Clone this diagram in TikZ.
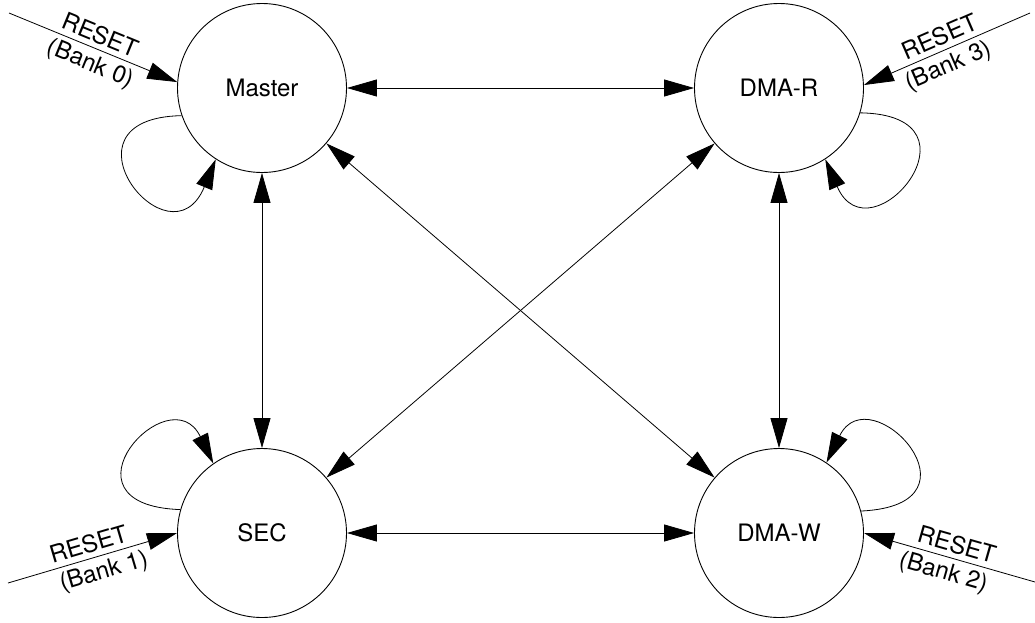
\documentclass[tikz,border=0pt]{standalone}
\usepackage{fontspec}
\setmainfont{TeX Gyre Heros}
\usetikzlibrary{arrows.meta}
\begin{document}
\begin{tikzpicture}[x=1pt,y=-1pt,
  state/.style={circle,draw,line width=0.9pt,minimum size=169pt,inner sep=0pt,font=\fontsize{24}{28}\selectfont},
  arr/.style={line width=0.8pt,-{Triangle[length=30pt,width=17pt]}},
  darr/.style={line width=0.8pt,{Triangle[length=30pt,width=17pt]}-{Triangle[length=30pt,width=17pt]}},
  lbl/.style={font=\fontsize{24}{28}\selectfont,sloped,inner sep=5pt}]
\useasboundingbox (0,0) rectangle (1035,622);
\node[state] (M) at (262,88) {Master};
\node[state] (R) at (779,88) {DMA-R};
\node[state] (S) at (262,533) {SEC};
\node[state] (W) at (779,533) {DMA-W};
\coordinate (r0) at (9,13);
\coordinate (r3) at (1030,13);
\coordinate (r1) at (8,583);
\coordinate (r2) at (1035,582);
% connections
\draw[darr] (M) -- (R);
\draw[darr] (S) -- (W);
\draw[darr] (M) -- (S);
\draw[darr] (R) -- (W);
\draw[darr] (M) -- (W);
\draw[darr] (R) -- (S);
% self loops
\draw[arr] (M.199.7) .. controls (50,118) and (170,270) .. (M.237.5);
\draw[arr] (R.343.5) .. controls (992,115) and (870,262) .. (R.303.9);
\draw[arr] (S.164.9) .. controls (50,505) and (170,374) .. (S.125.8);
\draw[arr] (W.15.5) .. controls (992,505) and (870,374) .. (W.56);
% resets
\draw[arr] (r0) -- node[lbl,above,pos=0.51] {RESET} node[lbl,below,pos=0.52] {(Bank 0)} (M.176.6);
\draw[arr] (r3) -- node[lbl,above,pos=0.51] {RESET} node[lbl,below,pos=0.53] {(Bank 3)} (R.2.7);
\draw[arr] (r1) -- node[lbl,above,pos=0.5] {RESET} node[lbl,below,pos=0.54] {(Bank 1)} (S.180);
\draw[arr] (r2) -- node[lbl,above,pos=0.48] {RESET} node[lbl,below,pos=0.51] {(Bank 2)} (W.0);
\end{tikzpicture}
\end{document}
